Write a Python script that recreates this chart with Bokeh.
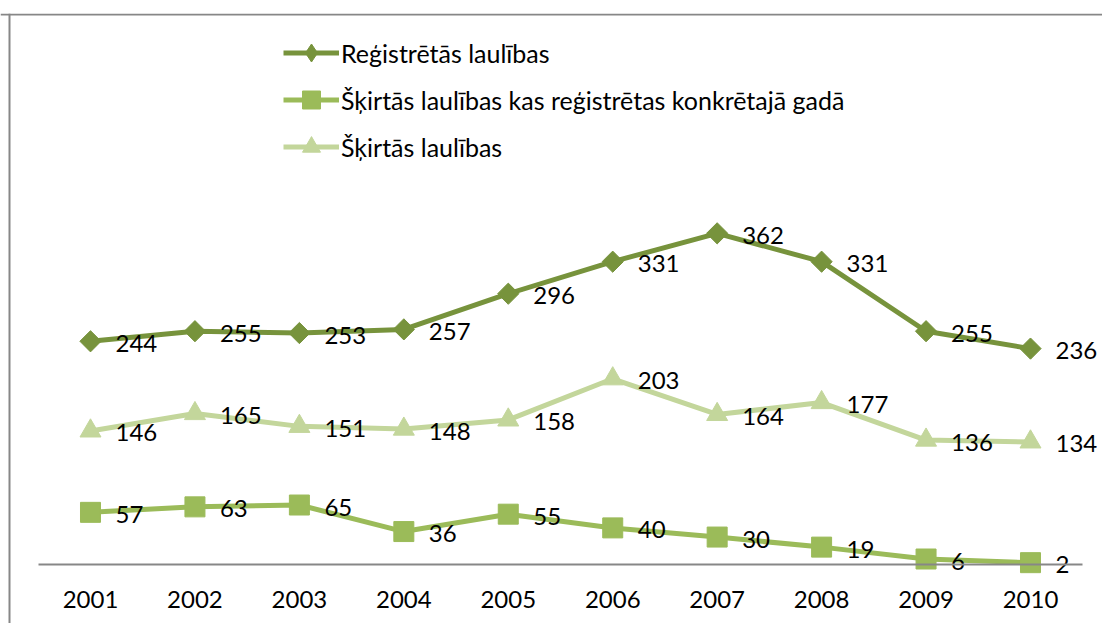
import math
from bokeh.plotting import figure
from bokeh.models import ColumnDataSource, Span, Legend, LegendItem, FixedTicker
from bokeh.core.properties import value
from bokeh.embed import file_html
from bokeh.resources import INLINE

years = [2001, 2002, 2003, 2004, 2005, 2006, 2007, 2008, 2009, 2010]
registered = [244, 255, 253, 257, 296, 331, 362, 331, 255, 236]
divorced_same_year = [57, 63, 65, 36, 55, 40, 30, 19, 6, 2]
divorced = [146, 165, 151, 148, 158, 203, 164, 177, 136, 134]

names = ["Reģistrētās laulības",
         "Šķirtās laulības kas reģistrētas konkrētajā gadā",
         "Šķirtās laulības"]

C_DARK = "#77933C"
C_MID = "#9BBB59"
C_LIGHT = "#C3D69B"
FONT = "Lato"

p = figure(width=1102, height=623, output_backend="svg", toolbar_location=None,
           x_range=(2000.1383, 2010.6894), y_range=(-64.5, 602.3),
           min_border_left=0, min_border_right=0, min_border_top=13, min_border_bottom=0)
p.background_fill_color = "white"
p.border_fill_color = "white"
p.outline_line_color = None
p.grid.visible = False
p.yaxis.visible = False

xa = p.xaxis[0]
xa.fixed_location = 0
xa.bounds = (2000.5, 2010.5)
xa.ticker = FixedTicker(ticks=years)
xa.major_label_overrides = {y: str(y) for y in years}
xa.axis_line_color = "#878787"
xa.axis_line_width = 2
xa.major_tick_line_color = None
xa.minor_tick_line_color = None
xa.major_label_standoff = 21
xa.major_label_text_font = FONT
xa.major_label_text_font_size = "24px"
xa.major_label_text_color = "black"

# chart frame border (left and top)
p.add_layout(Span(location=2000.2245, dimension="height", line_color="#878787", line_width=2))
p.add_layout(Span(location=601.2, dimension="width", line_color="#878787", line_width=2))

series = [
    (registered, C_DARK, "square", 15, math.pi / 4, "diamond"),
    (divorced_same_year, C_MID, "square", 20, 0, None),
    (divorced, C_LIGHT, "triangle", 21, 0, None),
]
items = []
for (vals, col, mk, sz, ang, legend_mk), nm in zip(series, names):
    src = ColumnDataSource(dict(x=years, y=vals, t=[str(v) for v in vals]))
    ln = p.line("x", "y", source=src, line_color=col, line_width=5)
    sc = p.scatter("x", "y", source=src, marker=mk, size=sz, angle=ang,
                   fill_color=col, line_color=col)
    p.text("x", "y", text="t", source=src, x_offset=25, y_offset=2,
           text_font=value(FONT), text_font_size="24px", text_color="black",
           text_align="left", text_baseline="middle")
    rends = [ln, sc]
    if legend_mk:
        # legend-only marker (rotated squares are drawn unrotated in legends)
        proxy = p.scatter("x", "y", source=src, marker=legend_mk, size=sz,
                          fill_color=col, line_color=col)
        proxy.visible = False
        rends = [ln, proxy]
    items.append(LegendItem(label=nm, renderers=rends))

legend = Legend(items=items, location=(283, 454), orientation="vertical",
                glyph_width=56, glyph_height=45, label_standoff=2, spacing=2,
                padding=0, margin=0, border_line_color=None, background_fill_alpha=0,
                label_text_font=FONT, label_text_font_size="25px", label_text_color="black")
p.add_layout(legend, "center")

open("out.html", "w").write(file_html(p, INLINE))
